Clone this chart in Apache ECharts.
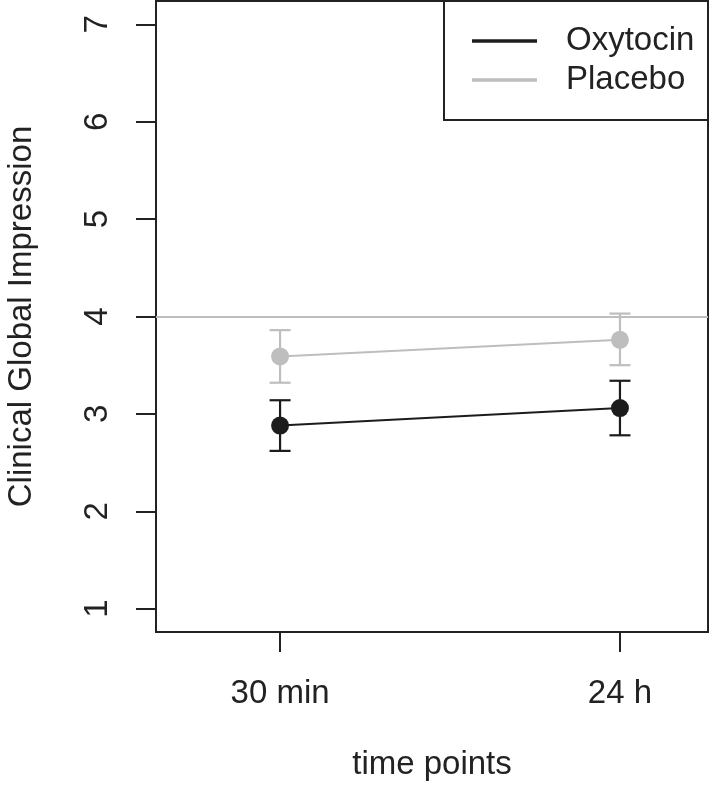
<!DOCTYPE html>
<html>
<head>
<meta charset="utf-8">
<script src="https://cdn.jsdelivr.net/npm/echarts@6/dist/echarts.min.js"></script>
<style>
html,body{margin:0;padding:0;background:#fff;}
#chart{width:711px;height:796px;}
</style>
</head>
<body>
<div id="chart"></div>
<script>
// ---- data ----
var timeLabels = ['30 min', '24 h'];
var timePositions = [1, 2];
var yTicks = [1, 2, 3, 4, 5, 6, 7];
var seriesNames = ['Oxytocin', 'Placebo'];
var oxyMean = [2.88, 3.06];
var oxyLow = [2.62, 2.78];
var oxyHigh = [3.14, 3.34];
var plaMean = [3.59, 3.76];
var plaLow = [3.32, 3.50];
var plaHigh = [3.86, 4.03];
var referenceLine = 4;

var FONT = '"Liberation Sans", Arial, Helvetica, sans-serif';
var BLACK = '#1c1c1c';
var GREY = '#bebebe';
var AXIS = '#222222';

function pts(means) {
  return timePositions.map(function (x, i) { return [x, means[i]]; });
}
function bars(lows, highs) {
  return timePositions.map(function (x, i) { return [x, lows[i], highs[i]]; });
}
function errorRender(color) {
  return function (params, api) {
    var x = api.value(0);
    var lo = api.coord([x, api.value(1)]);
    var hi = api.coord([x, api.value(2)]);
    var hw = 10.5;
    var style = { stroke: color, lineWidth: 2.2, fill: null };
    return {
      type: 'group',
      children: [
        { type: 'line', shape: { x1: lo[0], y1: lo[1], x2: hi[0], y2: hi[1] }, style: style },
        { type: 'line', shape: { x1: lo[0] - hw, y1: lo[1], x2: lo[0] + hw, y2: lo[1] }, style: style },
        { type: 'line', shape: { x1: hi[0] - hw, y1: hi[1], x2: hi[0] + hw, y2: hi[1] }, style: style }
      ]
    };
  };
}

var chart = echarts.init(document.getElementById('chart'), null, { renderer: 'canvas' });
var option = {
  animation: false,
  backgroundColor: '#ffffff',
  textStyle: { fontFamily: FONT },
  grid: {
    left: 156, right: 3, top: 1, bottom: 164,
    outerBoundsMode: 'none',
    containLabel: false,
    show: true, borderColor: AXIS, borderWidth: 2, backgroundColor: 'transparent'
  },
  xAxis: {
    type: 'value',
    min: 0.635, max: 2.259,
    name: 'time points',
    nameLocation: 'middle',
    nameGap: 116,
    nameTextStyle: { fontSize: 33, color: '#222', fontFamily: FONT },
    axisLine: { show: false },
    splitLine: { show: false },
    axisTick: { show: true, length: 20, customValues: timePositions, lineStyle: { color: AXIS, width: 2 } },
    axisLabel: {
      show: true, margin: 45, fontSize: 33, color: '#222', fontFamily: FONT,
      customValues: timePositions,
      formatter: function (v) { var i = timePositions.indexOf(v); return i >= 0 ? timeLabels[i] : ''; }
    }
  },
  yAxis: {
    type: 'value',
    min: 0.76, max: 7.24,
    name: 'Clinical Global Impression',
    nameLocation: 'middle',
    nameGap: 118,
    nameTextStyle: { fontSize: 33, color: '#222', fontFamily: FONT },
    axisLine: { show: false },
    splitLine: { show: false },
    axisTick: { show: true, length: 20, customValues: yTicks, lineStyle: { color: AXIS, width: 2 } },
    axisLabel: {
      show: true, rotate: 90, margin: 42, fontSize: 33, color: '#222', fontFamily: FONT,
      customValues: yTicks,
      formatter: function (v) { return String(v); }
    }
  },
  legend: {
    show: true,
    orient: 'vertical',
    left: 472, top: 23,
    padding: 0,
    itemGap: 3,
    itemWidth: 65,
    itemHeight: 3.5,
    icon: 'rect',
    selectedMode: false,
    data: seriesNames,
    textStyle: { fontSize: 33, lineHeight: 36, color: '#222', fontFamily: FONT, padding: [0, 0, 0, 24] },
    z: 20
  },
  graphic: [{
    type: 'rect',
    z: 15,
    shape: { x: 444, y: 1, width: 264, height: 119 },
    style: { fill: '#ffffff', stroke: AXIS, lineWidth: 2 }
  }],
  series: [
    {
      name: 'Placebo',
      type: 'line',
      data: pts(plaMean),
      symbol: 'circle', symbolSize: 18,
      color: GREY,
      lineStyle: { color: GREY, width: 2 },
      itemStyle: { color: GREY, borderWidth: 0 },
      z: 3,
      markLine: {
        silent: true, symbol: 'none', label: { show: false },
        lineStyle: { color: GREY, width: 2, type: 'solid' },
        data: [{ yAxis: referenceLine }]
      }
    },
    {
      name: 'Placebo err', type: 'custom', data: bars(plaLow, plaHigh),
      renderItem: errorRender(GREY), z: 2, silent: true
    },
    {
      name: 'Oxytocin',
      type: 'line',
      data: pts(oxyMean),
      symbol: 'circle', symbolSize: 18,
      color: BLACK,
      lineStyle: { color: BLACK, width: 2 },
      itemStyle: { color: BLACK, borderWidth: 0 },
      z: 5
    },
    {
      name: 'Oxytocin err', type: 'custom', data: bars(oxyLow, oxyHigh),
      renderItem: errorRender(BLACK), z: 4, silent: true
    }
  ]
};
chart.setOption(option);
</script>
</body>
</html>
